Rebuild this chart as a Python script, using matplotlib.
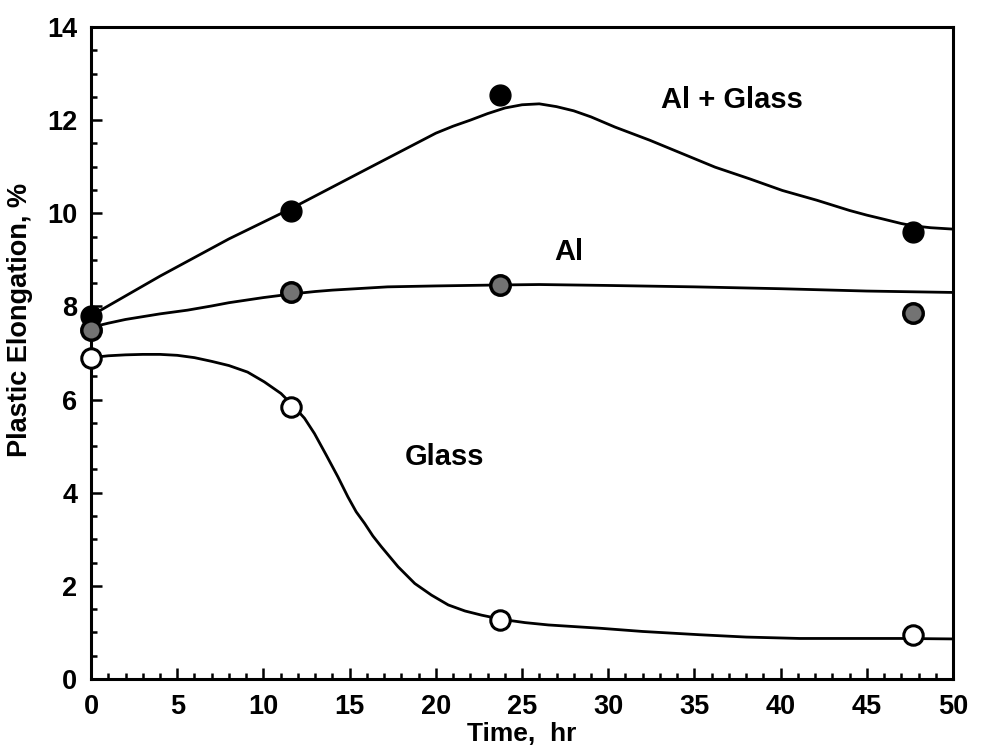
import matplotlib
matplotlib.use("Agg")
import matplotlib.pyplot as plt
from matplotlib.ticker import MultipleLocator

plt.rcParams['font.family'] = ['Liberation Sans', 'DejaVu Sans']
plt.rcParams['font.weight'] = 'bold'

# measured points
time_hr = [0, 11.6, 23.7, 47.7]
al_glass = [7.8, 10.05, 12.55, 9.6]
al = [7.5, 8.3, 8.45, 7.85]
glass = [6.9, 5.85, 1.27, 0.94]

# fitted curves
al_glass_fit_x = [0, 4, 8, 11.6, 16, 20, 21, 22, 23, 24, 25, 26, 27, 28, 29, 30.4,
                  32.4, 34.3, 36.2, 38.2, 40.1, 42.1, 44, 45, 45.9, 47, 47.7, 48.7, 50]
al_glass_fit_y = [7.8, 8.65, 9.45, 10.1, 10.95, 11.72, 11.87, 12.0, 12.14, 12.26,
                  12.33, 12.35, 12.29, 12.2, 12.07, 11.85, 11.57, 11.28, 10.99, 10.74,
                  10.49, 10.28, 10.06, 9.96, 9.88, 9.78, 9.73, 9.69, 9.66]

al_fit_x = [0, 1, 2, 3, 4, 5.6, 7, 8, 10, 11.7, 13, 14, 17.2, 20, 23.6, 26, 30, 35,
            40, 45, 50]
al_fit_y = [7.55, 7.64, 7.72, 7.78, 7.84, 7.92, 8.01, 8.08, 8.19, 8.27, 8.32, 8.35,
            8.42, 8.44, 8.46, 8.47, 8.45, 8.42, 8.38, 8.33, 8.3]

glass_fit_x = [0, 1, 2, 3, 4, 5, 6, 7, 8, 9.08, 10.05, 11.02, 11.74, 12.38, 12.96,
               13.64, 14.32, 14.9, 15.38, 15.87, 16.35, 16.84, 17.81, 18.78, 19.75,
               20.72, 21.69, 22.66, 23.82, 25.18, 26.53, 29.5, 32, 35.3, 38, 41.1,
               46.9, 50]
glass_fit_y = [6.9, 6.94, 6.96, 6.97, 6.97, 6.95, 6.9, 6.82, 6.73, 6.59, 6.38, 6.13,
               5.86, 5.6, 5.27, 4.81, 4.34, 3.91, 3.59, 3.34, 3.07, 2.84, 2.41, 2.05,
               1.8, 1.59, 1.46, 1.37, 1.28, 1.21, 1.16, 1.09, 1.02, 0.95, 0.9, 0.87,
               0.87, 0.86]

fig = plt.figure(figsize=(9.82, 7.5), dpi=100)
ax = fig.add_axes([0.0927, 0.0947, 0.8778, 0.8693])

ax.plot(al_glass_fit_x, al_glass_fit_y, color='black', lw=2.0, zorder=2)
ax.plot(al_fit_x, al_fit_y, color='black', lw=2.0, zorder=2)
ax.plot(glass_fit_x, glass_fit_y, color='black', lw=2.0, zorder=2)

ax.plot(time_hr, al_glass, 'o', ms=15, mfc='black', mec='black', clip_on=False, zorder=4)
ax.plot(time_hr, al, 'o', ms=14, mfc='0.45', mec='black', mew=2.5, clip_on=False, zorder=4)
ax.plot(time_hr, glass, 'o', ms=14, mfc='white', mec='black', mew=2.2, clip_on=False, zorder=5)

ax.text(37.2, 12.43, 'Al + Glass', fontsize=21, fontweight='bold', ha='center', va='center')
ax.text(27.7, 9.16, 'Al', fontsize=21, fontweight='bold', ha='center', va='center')
ax.text(20.5, 4.77, 'Glass', fontsize=21, fontweight='bold', ha='center', va='center')

ax.set_xlim(0, 50)
ax.set_ylim(0, 14)
ax.xaxis.set_major_locator(MultipleLocator(5))
ax.xaxis.set_minor_locator(MultipleLocator(1))
ax.yaxis.set_major_locator(MultipleLocator(2))
ax.yaxis.set_minor_locator(MultipleLocator(0.5))
ax.tick_params(which='both', direction='in', width=1.8, labelsize=19.5)
ax.tick_params(which='major', length=8)
ax.tick_params(which='minor', length=4)
ax.tick_params(axis='x', pad=11)
ax.tick_params(axis='y', pad=10)
for lbl in ax.get_xticklabels() + ax.get_yticklabels():
    lbl.set_fontweight('bold')
for s in ax.spines.values():
    s.set_linewidth(2.2)

ax.set_xlabel('Time,  hr', fontsize=19, fontweight='bold', labelpad=1)
ax.set_ylabel('Plastic Elongation, %', fontsize=19.5, fontweight='bold')
ax.yaxis.set_label_coords(-0.067, 0.55)

fig.savefig('out.png', dpi=100)
